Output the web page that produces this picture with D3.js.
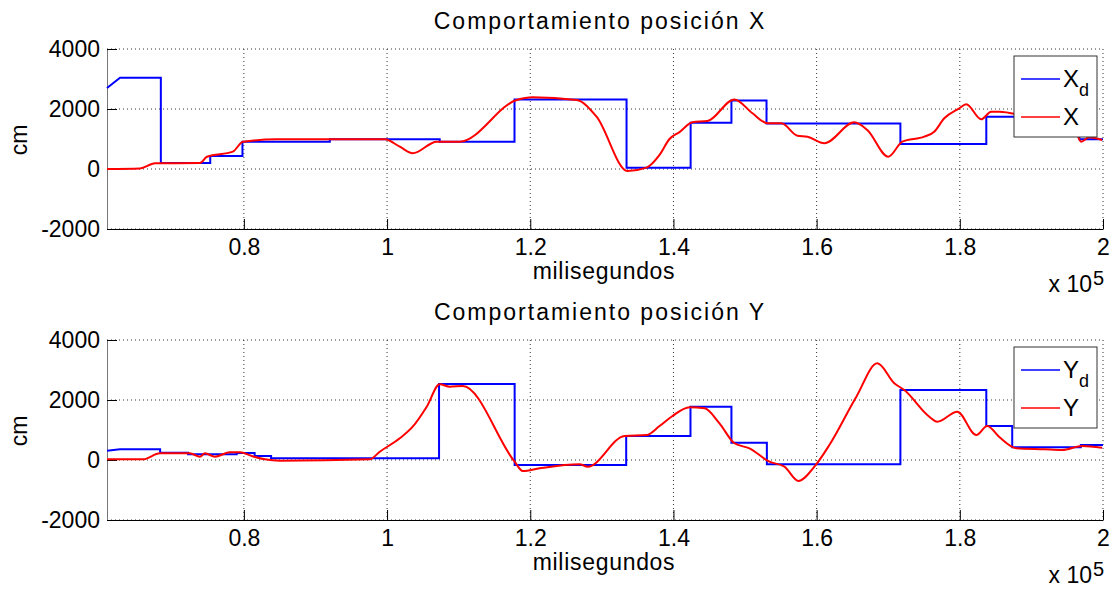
<!DOCTYPE html>
<html>
<head>
<meta charset="utf-8">
<script src="https://cdn.jsdelivr.net/npm/d3@7"></script>
<style>
  body { margin: 0; background: #fff; }
  svg text { font-family: "Liberation Sans", Arial, sans-serif; fill: #000; }
</style>
</head>
<body>
<div id="chart-area"></div>
<script>
// tiempos en milisegundos, valores en cm
var xdTime = [60880, 62700, 68400, 68400, 75300, 75300, 79800, 79800, 92000, 92000, 107350, 107350, 117800, 117800, 133450, 133450, 142400, 142400, 148100, 148100, 153000, 153000, 171700, 171700, 183700, 183700, 196700, 196700, 200000];
var xdValue = [2700, 3040, 3040, 200, 200, 430, 430, 910, 910, 990, 990, 910, 910, 2320, 2320, 45, 45, 1545, 1545, 2280, 2280, 1520, 1520, 830, 830, 1745, 1745, 990, 990];

var xTime = [60880, 65480, 67580, 73860, 74840, 78460, 79860, 84600, 99680, 101770, 103580, 106930, 110140, 118100, 120330, 126470, 129260, 133590, 136240, 138060, 139450, 140850, 142660, 144760, 148520, 151040, 153130, 155080, 157320, 158710, 161080, 165270, 167080, 170010, 171970, 175040, 176430, 177830, 179920, 180900, 182990, 184390, 185510, 189690, 193880, 195970, 196950, 198070, 199880];
var xValue = [0, 20, 190, 200, 410, 577, 910, 990, 990, 743, 523, 910, 910, 2300, 2390, 2300, 1745, -67, 45, 470, 1000, 1230, 1560, 1600, 2320, 1857, 1523, 1523, 1110, 1077, 857, 1557, 1300, 410, 910, 1077, 1243, 1690, 2023, 2157, 1657, 1910, 1910, 1750, 1700, 1400, 910, 1057, 967];

var ydTime = [60880, 62700, 68300, 68300, 72200, 72200, 79000, 79000, 81500, 81500, 83800, 83800, 107260, 107260, 117820, 117820, 133400, 133400, 142380, 142380, 148100, 148100, 153050, 153050, 171700, 171700, 183700, 183700, 187320, 187320, 196900, 196900, 200000];
var ydValue = [310, 357, 357, 243, 243, 190, 190, 230, 230, 133, 133, 56, 56, 2533, 2533, -167, -167, 800, 800, 1777, 1777, 577, 577, -143, -143, 2333, 2333, 1133, 1133, 423, 423, 500, 500];

var yTime = [60880, 65900, 68280, 72460, 73860, 74560, 75950, 78040, 79440, 81110, 82930, 85020, 97580, 98980, 101770, 103580, 105540, 107350, 108750, 110560, 117820, 118940, 121310, 126890, 128010, 133170, 136240, 138060, 139870, 142240, 144340, 146430, 148520, 150620, 153410, 155500, 157460, 159690, 161780, 165550, 168480, 170850, 172250, 175740, 176850, 179640, 182300, 183830, 185510, 187880, 191790, 194300, 197090, 199880];
var yValue = [23, 23, 223, 223, 110, 223, 110, 257, 257, 133, 23, -23, 23, 277, 723, 1110, 1777, 2523, 2443, 2467, -57, -367, -277, -143, -223, 800, 833, 1133, 1467, 1757, 1723, 1223, 557, 390, -57, -223, -700, -223, 500, 2110, 3223, 2557, 2333, 1443, 1277, 1610, 833, 1133, 767, 393, 357, 333, 467, 410];

var xTicks = [80000, 100000, 120000, 140000, 160000, 180000, 200000];
var yTicks = [-2000, 0, 2000, 4000];

document.addEventListener("DOMContentLoaded", function() {
    var width = 1112, height = 590;
    var left = 107, right = 1103;

    var svg = d3.select("#chart-area").append("svg")
        .attr("width", width)
        .attr("height", height);

    svg.append("rect").attr("width", width).attr("height", height).attr("fill", "#fff");

    var x = d3.scaleLinear().domain([60880, 200000]).range([left, right]);

    function zip(t, v) {
        return t.map((d, i) => ({ t: d, v: v[i] }));
    }

    function panel(top, title, ref, refName, meas, measName) {
        var bottom = top + 180;
        var y = d3.scaleLinear().domain([-2000, 4000]).range([bottom, top]);
        var g = svg.append("g");

        // rejilla punteada
        g.selectAll(".gx").data(xTicks).enter().append("line")
            .attr("x1", d => x(d)).attr("x2", d => x(d))
            .attr("y1", top).attr("y2", bottom)
            .attr("stroke", "#333").attr("stroke-width", 1).attr("stroke-dasharray", "1,3");
        g.selectAll(".gy").data(yTicks).enter().append("line")
            .attr("x1", left).attr("x2", right)
            .attr("y1", d => y(d)).attr("y2", d => y(d))
            .attr("stroke", "#333").attr("stroke-width", 1).attr("stroke-dasharray", "1,3");

        // ejes
        var xAxis = d3.axisBottom(x).tickValues(xTicks).tickSizeInner(-10).tickSizeOuter(0)
            .tickPadding(10).tickFormat(d => String(d / 1e5));
        var gx = g.append("g").attr("transform", "translate(0," + bottom + ")").call(xAxis);
        gx.select(".domain").attr("stroke", "#000");
        gx.selectAll("text").attr("font-size", 23).attr("font-family", "Liberation Sans, Arial, sans-serif");

        var yAxis = d3.axisLeft(y).tickValues(yTicks).tickSizeInner(-10).tickSizeOuter(0)
            .tickPadding(7).tickFormat(d => String(d));
        var gy = g.append("g").attr("transform", "translate(" + left + ",0)").call(yAxis);
        gy.select(".domain").attr("stroke", "#777");
        gy.selectAll("text").attr("font-size", 23).attr("font-family", "Liberation Sans, Arial, sans-serif");

        // series
        var lineStep = d3.line().x(d => x(d.t)).y(d => y(d.v));
        var lineSmooth = d3.line().x(d => x(d.t)).y(d => y(d.v)).curve(d3.curveMonotoneX);

        g.append("path").datum(zip(ref[0], ref[1]))
            .attr("d", lineStep).attr("fill", "none").attr("stroke", "#0000ff").attr("stroke-width", 2);
        g.append("path").datum(zip(meas[0], meas[1]))
            .attr("d", lineSmooth).attr("fill", "none").attr("stroke", "#ff0000").attr("stroke-width", 2);

        // textos
        g.append("text").attr("x", 600).attr("y", top - 20).attr("text-anchor", "middle")
            .attr("font-size", 23).attr("letter-spacing", 2).text(title);
        g.append("text").attr("x", 604).attr("y", bottom + 50).attr("text-anchor", "middle")
            .attr("font-size", 23).attr("letter-spacing", 0.7).text("milisegundos");
        g.append("text").attr("transform", "translate(27," + (top + 91) + ") rotate(-90)")
            .attr("text-anchor", "middle").attr("font-size", 23).text("cm");
        g.append("text").attr("x", 1092).attr("y", bottom + 63).attr("text-anchor", "end")
            .attr("font-size", 23).text("x 10");
        g.append("text").attr("x", 1093).attr("y", bottom + 56).attr("font-size", 20).text("5");

        // leyenda
        var lg = g.append("g").attr("transform", "translate(1014," + (top + 7) + ")");
        lg.append("rect").attr("width", 83).attr("height", 81)
            .attr("fill", "#fff").attr("stroke", "#333").attr("stroke-width", 1);
        var items = [{ name: refName, color: "#0000ff", sub: "d" }, { name: measName, color: "#ff0000", sub: "" }];
        items.forEach(function(it, i) {
            var yy = 23 + i * 38;
            lg.append("line").attr("x1", 7).attr("x2", 46).attr("y1", yy).attr("y2", yy)
                .attr("stroke", it.color).attr("stroke-width", 1.5);
            var t = lg.append("text").attr("x", 49).attr("y", yy + 8).attr("font-size", 24).text(it.name);
            if (it.sub) {
                t.append("tspan").attr("font-size", 18).attr("dy", 9).text(it.sub);
            }
        });
    }

    panel(49, "Comportamiento posición X", [xdTime, xdValue], "X", [xTime, xValue], "X");
    panel(340, "Comportamiento posición Y", [ydTime, ydValue], "Y", [yTime, yValue], "Y");
});
</script>
</body>
</html>
